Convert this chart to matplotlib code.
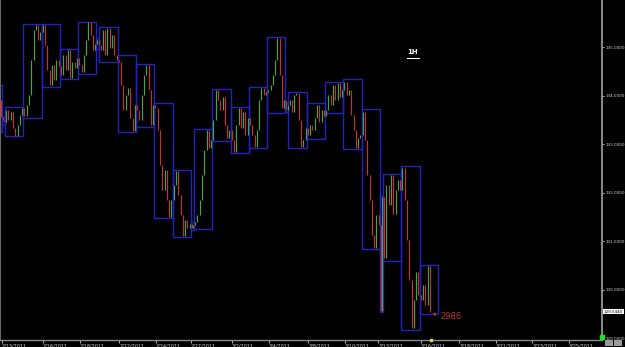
import matplotlib
matplotlib.use("Agg")
import matplotlib.pyplot as plt
from matplotlib.patches import Rectangle

# sessions (hours from Mon 2/14 00:00), one blue box per session
sess_start = [-28, -4, 0, 24, 48, 72, 96, 120, 124, 148, 172, 196, 220, 244, 248,
              272, 296, 320, 344, 368, 372, 396, 420, 444, 468, 492, 496, 520, 544]
sess_len = [24, 4, 24, 24, 24, 24, 24, 4, 24, 24, 24, 24, 24, 4, 24,
            24, 24, 24, 24, 4, 24, 24, 24, 24, 24, 4, 24, 24, 24]
sess_step = [3, 2, 3, 3, 3, 3, 3, 2, 3, 3, 3, 3, 3, 2, 3,
             3, 3, 3, 3, 2, 3, 3, 3, 3, 3, 2, 3, 3, 3]
sess_high = [134.22, 133.55, 133.76, 135.47, 135.47, 134.96, 135.52, 135.19, 135.41, 134.84,
             134.65, 133.85, 132.46, 131.40, 133.31, 134.13, 133.76, 134.18, 135.21, 133.85,
             134.07, 133.85, 134.28, 134.34, 133.72, 131.93, 132.38, 132.55, 130.51]
sess_low = [133.25, 133.40, 133.16, 133.54, 134.18, 134.34, 134.44, 134.96, 134.69, 133.25,
            133.35, 131.47, 131.08, 131.22, 131.25, 133.06, 132.81, 132.92, 133.64, 133.66,
            132.92, 133.10, 133.64, 132.90, 130.84, 129.54, 130.59, 129.16, 129.49]

# closes of the 1H chart, sampled every few hours in each session
sess_close = [
    [133.40, 133.30, 133.55, 133.80, 134.20, 134.05, 133.90, 133.55],
    [133.50, 133.45],
    [133.70, 133.49, 133.66, 133.33, 133.16, 133.39, 133.60, 133.74],
    [133.58, 133.80, 134.01, 134.73, 135.35, 135.45, 135.14, 135.31],
    [135.45, 135.04, 134.53, 134.22, 134.63, 134.32, 134.73, 134.61],
    [134.42, 134.84, 134.53, 134.94, 134.36, 134.69, 134.57, 134.77],
    [134.63, 134.48, 134.84, 135.14, 135.52, 135.25, 134.94, 135.06],
    [135.14, 135.04],
    [134.94, 135.35, 134.84, 135.39, 134.98, 135.25, 134.84, 134.73],
    [134.69, 134.22, 133.70, 134.01, 134.15, 133.54, 133.27, 133.80],
    [133.70, 133.49, 134.01, 134.42, 134.63, 134.11, 133.39, 133.80],
    [133.74, 133.29, 132.57, 132.05, 132.46, 131.85, 131.49, 131.85],
    [132.15, 132.44, 131.95, 131.54, 131.10, 131.43, 131.27, 131.35],
    [131.27, 131.33],
    [131.39, 131.54, 131.85, 132.36, 132.88, 133.29, 132.92, 133.08],
    [133.49, 134.11, 133.91, 133.70, 133.97, 133.39, 133.12, 133.29],
    [133.08, 132.84, 133.39, 133.74, 133.33, 133.66, 133.19, 133.54],
    [133.39, 133.19, 132.94, 133.29, 133.91, 134.15, 134.01, 134.07],
    [134.11, 134.22, 134.42, 134.73, 135.19, 134.42, 133.74, 133.91],
    [133.70, 133.80],
    [133.91, 133.66, 134.01, 134.05, 133.49, 132.94, 133.08, 133.33],
    [133.19, 133.39, 133.29, 133.54, 133.80, 133.45, 133.70, 133.58],
    [133.70, 134.01, 133.80, 134.22, 133.91, 134.26, 133.97, 134.11],
    [134.28, 134.01, 134.11, 133.60, 133.29, 132.92, 133.12, 133.19],
    [133.66, 133.08, 132.36, 131.85, 131.12, 130.86, 131.54, 131.33],
    [129.56, 131.90],
    [130.65, 132.15, 131.74, 132.36, 131.56, 132.05, 132.26, 132.05],
    [132.51, 131.85, 131.02, 130.20, 129.21, 129.78, 130.36, 129.89],
    [129.78, 130.09, 129.68, 130.49, 129.544],
]

date_ticks = [-4, 50, 98, 150, 198, 244, 298, 346, 398, 446, 490, 546, 596, 644, 692, 740]
date_labels = ["2/13/2011", "2/16/2011", "2/18/2011", "2/22/2011", "2/24/2011", "2/27/2011",
               "3/2/2011", "3/4/2011", "3/8/2011", "3/10/2011", "3/13/2011", "3/16/2011",
               "3/18/2011", "3/21/2011", "3/23/2011", "3/25/2011"]
price_ticks = [129, 130, 131, 132, 133, 134, 135]
last_price = 129.544

fig = plt.figure(figsize=(6.25, 3.47), dpi=100, facecolor="black")
ax = fig.add_axes([0, 7 / 347, 602 / 625, 340 / 347], facecolor="black")
ax.set_xlim(-6.56, 783.5)
ax.set_ylim(128.96, 135.97)

box_col = "#2222c0"
for s, ln, hi, lo in zip(sess_start, sess_len, sess_high, sess_low):
    ax.add_patch(Rectangle((s, lo), ln, hi - lo, fill=False, ec=box_col, lw=1.0, zorder=2))

# candles: open = previous close
times, closes, steps = [], [], []
for s, st, cl in zip(sess_start, sess_step, sess_close):
    for i, c in enumerate(cl):
        times.append(s + st * (i + 1))
        closes.append(c)
        steps.append(st)
for i in range(1, len(closes)):
    o, c = closes[i - 1], closes[i]
    col = "#3fa83f" if c >= o else "#c83030"
    ax.vlines(times[i] - steps[i] / 2, min(o, c), max(o, c), color=col, lw=0.85, zorder=3)

# axes styling
ax.spines["top"].set_visible(False)
ax.spines["right"].set_color("#8a8a8a")
ax.spines["right"].set_linewidth(1.4)
ax.spines["bottom"].set_color("#8a8a8a")
ax.spines["bottom"].set_linewidth(1.0)
ax.spines["left"].set_color("#6a6a6a")
ax.spines["left"].set_linewidth(0.8)

ax.yaxis.tick_right()
ax.set_yticks(price_ticks)
ax.set_yticklabels([f"{p:.4f}" for p in price_ticks])
ax.tick_params(axis="y", colors="#d0d0d0", labelsize=3.0, length=1.5, pad=0.8, width=0.6)
ax.set_xticks(date_ticks)
ax.set_xticklabels(date_labels, ha="left")
ax.tick_params(axis="x", colors="#d0d0d0", labelsize=3.5, length=2, pad=0.5, width=0.6)

# current price flag
ax.annotate(f"{last_price:.4f}", xy=(1.0, last_price), xycoords=("axes fraction", "data"),
            xytext=(1.5, 0), textcoords="offset points", ha="left", va="center",
            fontsize=3.0, color="black", annotation_clip=False,
            bbox=dict(boxstyle="square,pad=0.15", fc="white", ec="none"))

# range label
ax.annotate("2986", xy=(561, 129.50), xytext=(571, 129.45), ha="left", va="center",
            fontsize=6, color="#c03030",
            arrowprops=dict(arrowstyle="-|>", color="#c03030", lw=0.6, mutation_scale=4))

# timeframe label
ax.text(0.686, 0.847, "1H", transform=ax.transAxes, color="white", fontsize=5,
        fontweight="bold", ha="center", va="center")
ax.plot([0.676, 0.696], [0.828, 0.828], transform=ax.transAxes, color="white", lw=0.8)

# markers on the axes
ax.plot([times[-1]], [128.96], marker="s", color="#e8e030", ms=1.5, clip_on=False, zorder=5)
ax.plot([1.0], [0.008], transform=ax.transAxes, marker="s", color="#20e020", ms=3.5,
        clip_on=False, zorder=5)
fig.patches.append(Rectangle((605 / 625, 0.002), 8 / 625, 6 / 347, transform=fig.transFigure,
                             fc="#9a9a9a", ec="none"))
fig.patches.append(Rectangle((614 / 625, 0.002), 8 / 625, 6 / 347, transform=fig.transFigure,
                             fc="#9a9a9a", ec="none"))

fig.savefig("out.png", dpi=100, facecolor="black")
